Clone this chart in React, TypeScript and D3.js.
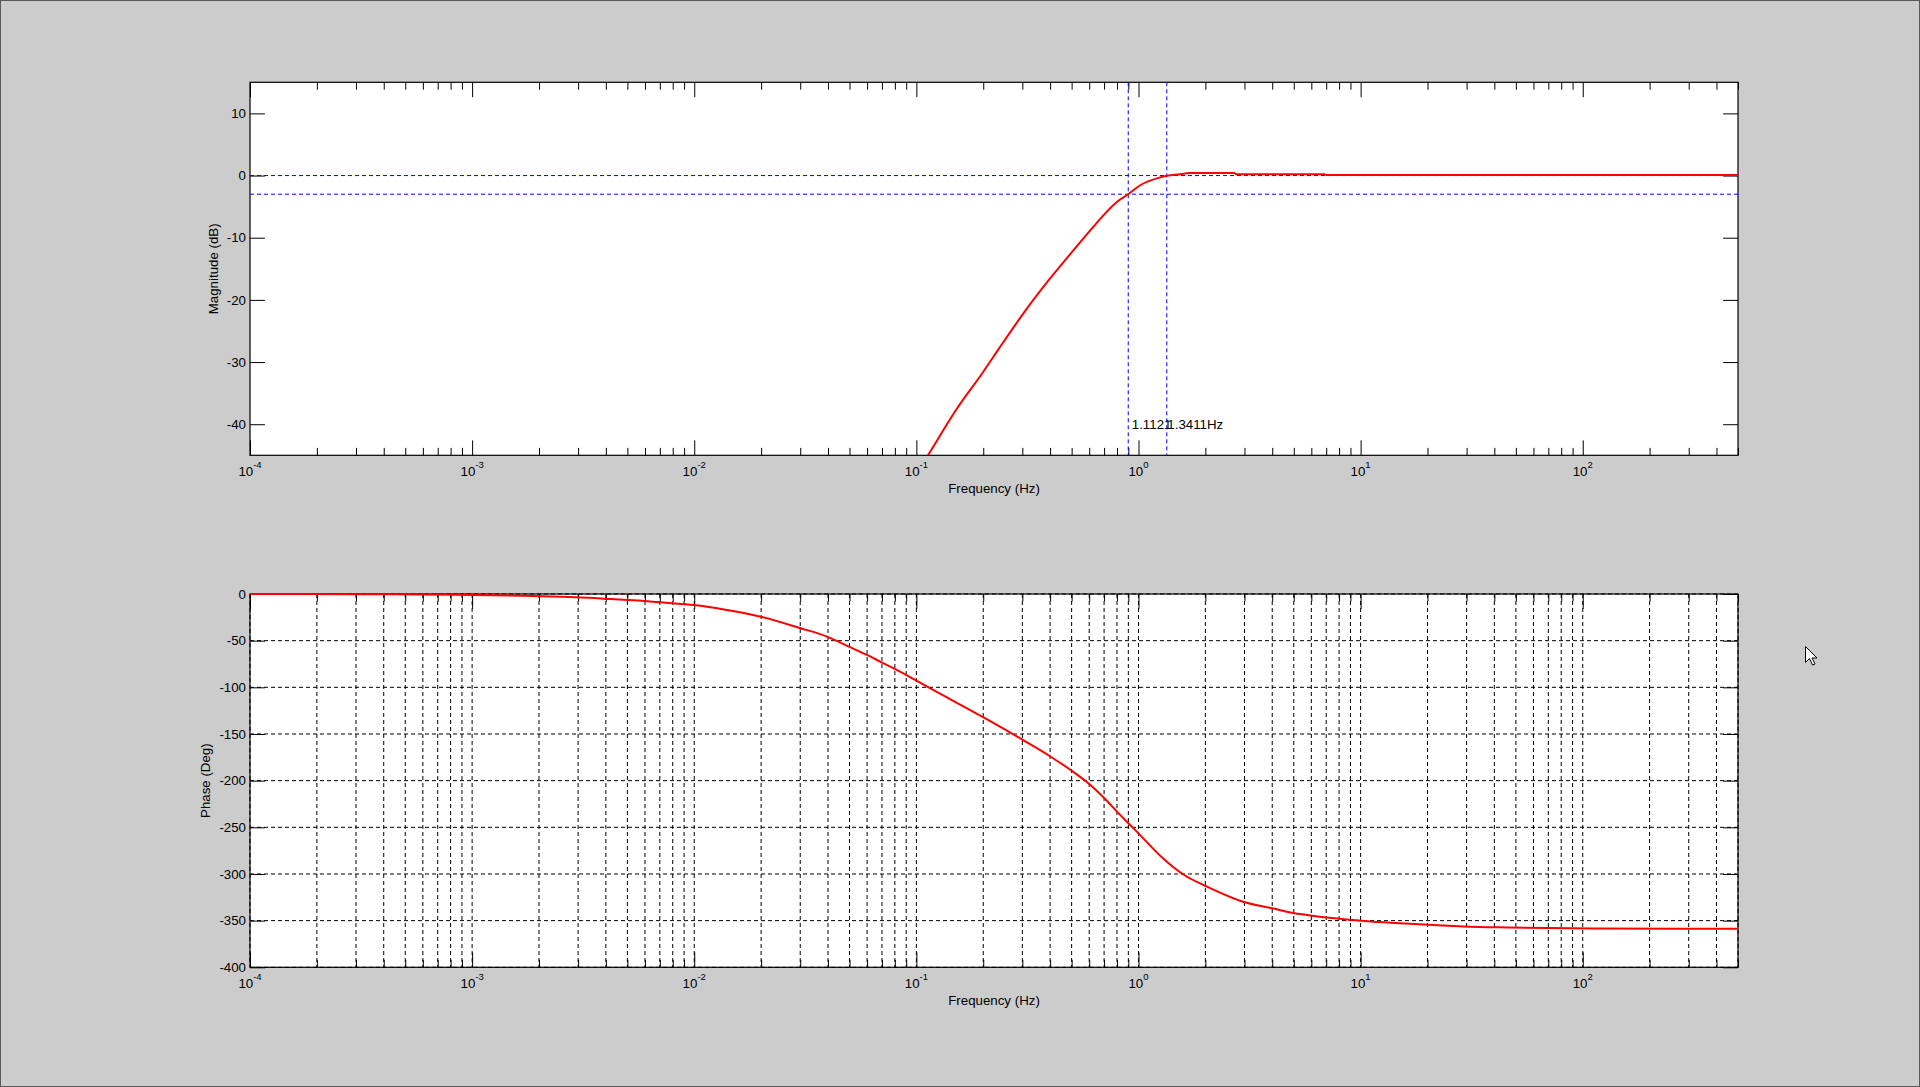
import React, { useEffect, useRef } from 'react';
import * as d3 from 'd3';

// Bode plot of a compensating filter: magnitude (dB) and phase (deg) vs frequency

const magFreq = [0.1, 0.1128, 0.1516, 0.1998, 0.2377, 0.3028, 0.399, 0.5089, 0.616, 0.695, 0.799, 0.8992, 1.018, 1.25, 1.3411, 1.537, 1.7, 2.7, 2.75, 6.88, 7.0, 500];
const magDb = [-48, -45, -37.6, -31.6, -27.6, -22.2, -16.6, -12.05, -8.55, -6.4, -4.26, -3.0, -1.56, -0.3, -0.02, 0.2, 0.42, 0.42, 0.2, 0.2, 0.1, 0.1];

const phaseFreq = [1e-4, 3e-4, 8.36e-4, 1.69e-3, 2.54e-3, 3.36e-3, 4.2e-3, 5.06e-3, 5.98e-3, 6.8e-3, 7.9e-3, 9.14e-3, 0.0104, 0.014, 0.0199, 0.02985, 0.0396, 0.0497, 0.0599, 0.0697, 0.08, 0.1, 0.119, 0.1997, 0.301, 0.4008, 0.4985, 0.6035, 0.713, 0.8036, 0.905, 1.0, 1.295, 1.612, 2.022, 2.985, 4.055, 4.82, 5.93, 8.09, 10, 13.6, 21.3, 29.2, 45.8, 112.6, 500];
const phaseDeg = [0, -0.2, -0.7, -1.8, -2.9, -3.9, -5.4, -6.4, -7.5, -8.6, -10, -11.1, -12.3, -17.1, -24.3, -36.4, -45.7, -56.4, -65.3, -73.2, -80.3, -92.8, -102.8, -132.0, -156.3, -174.1, -189.1, -204.1, -220.5, -233.7, -246.1, -256.5, -283.6, -301.4, -313.2, -330.0, -337.1, -341.2, -344.4, -348.0, -350.1, -352.2, -354.7, -356.2, -357.3, -358.3, -358.7];

// cutoff markers (vertical) and reference levels (horizontal) on the magnitude plot
const markerFreq = [0.8992, 1.3411];
const markerLabels = ['1.1121', '1.3411Hz'];
const refLevelsDb = [0, -3];

const xDomain: [number, number] = [1e-4, 500];
const xMajorTicks = [1e-4, 1e-3, 1e-2, 1e-1, 1, 10, 100];
const xExponents = ['-4', '-3', '-2', '-1', '0', '1', '2'];

const magDomain: [number, number] = [-45, 15];
const magTicks = [10, 0, -10, -20, -30, -40];
const phaseDomain: [number, number] = [-400, 0];
const phaseTicks = [0, -50, -100, -150, -200, -250, -300, -350, -400];

const FIG_W = 1920;
const FIG_H = 1087;
const FONT = '"Liberation Sans", Arial, Helvetica, sans-serif';
const DASH = '4,3';

export default function App() {
  const svgRef = useRef<SVGSVGElement>(null);

  useEffect(() => {
    if (!svgRef.current) return;
    const svg = d3.select(svgRef.current);
    svg.selectAll('*').remove();

    const left = 250;
    const right = 1738;
    const majorLen = 14.9;
    const minorLen = 7.4;

    const x = d3.scaleLog().domain(xDomain).range([left, right]);

    const minorTicks: number[] = [];
    for (let e = -4; e <= 2; e++) {
      for (let k = 2; k <= 9; k++) {
        const v = k * Math.pow(10, e);
        if (v <= xDomain[1] * 1.0001) minorTicks.push(v);
      }
    }

    // figure background + window frame
    svg.append('rect')
      .attr('x', 0.5).attr('y', 0.5)
      .attr('width', FIG_W - 1).attr('height', FIG_H - 1)
      .attr('fill', '#cccccc')
      .attr('stroke', '#5a5a5a');

    const panel = (
      top: number,
      bottom: number,
      domain: [number, number],
      ticks: number[],
      yLabel: string,
      yLabelX: number,
      grid: boolean,
      id: string,
    ) => {
      const y = d3.scaleLinear().domain(domain).range([bottom, top]);
      const g = svg.append('g');

      g.append('rect')
        .attr('x', left).attr('y', top)
        .attr('width', right - left).attr('height', bottom - top)
        .attr('fill', '#ffffff');

      if (grid) {
        g.append('g')
          .selectAll('line')
          .data([...xMajorTicks, ...minorTicks])
          .join('line')
          .attr('x1', d => x(d)).attr('x2', d => x(d))
          .attr('y1', top).attr('y2', bottom)
          .attr('stroke', '#000')
          .attr('stroke-width', 1)
          .attr('stroke-dasharray', DASH);
        g.append('g')
          .selectAll('line')
          .data(ticks)
          .join('line')
          .attr('x1', left).attr('x2', right)
          .attr('y1', d => y(d)).attr('y2', d => y(d))
          .attr('stroke', '#000')
          .attr('stroke-width', 1)
          .attr('stroke-dasharray', DASH);
      }

      // ticks inside the box on all four sides
      const tickAxis = (axis: d3.Axis<any>, tx: number, ty: number) => {
        const a = g.append('g')
          .attr('transform', `translate(${tx},${ty})`)
          .call(axis);
        a.select('.domain').remove();
        a.selectAll('text').remove();
        a.selectAll('line').attr('stroke', '#000').attr('stroke-width', 1);
      };
      tickAxis(d3.axisBottom(x).tickValues(xMajorTicks).tickSize(-majorLen).tickSizeOuter(0).tickFormat(() => ''), 0, bottom);
      tickAxis(d3.axisBottom(x).tickValues(minorTicks).tickSize(-minorLen).tickSizeOuter(0).tickFormat(() => ''), 0, bottom);
      tickAxis(d3.axisTop(x).tickValues(xMajorTicks).tickSize(-majorLen).tickSizeOuter(0).tickFormat(() => ''), 0, top);
      tickAxis(d3.axisTop(x).tickValues(minorTicks).tickSize(-minorLen).tickSizeOuter(0).tickFormat(() => ''), 0, top);
      tickAxis(d3.axisLeft(y).tickValues(ticks).tickSize(-majorLen).tickSizeOuter(0).tickFormat(() => ''), left, 0);
      tickAxis(d3.axisRight(y).tickValues(ticks).tickSize(-majorLen).tickSizeOuter(0).tickFormat(() => ''), right, 0);

      g.append('rect')
        .attr('x', left).attr('y', top)
        .attr('width', right - left).attr('height', bottom - top)
        .attr('fill', 'none')
        .attr('stroke', '#000')
        .attr('stroke-width', 1.2);

      // x tick labels 10^n
      const xl = g.append('g')
        .selectAll('text')
        .data(xMajorTicks)
        .join('text')
        .attr('x', d => x(d))
        .attr('y', bottom + 20.5)
        .attr('text-anchor', 'middle')
        .attr('font-family', FONT)
        .attr('fill', '#000');
      xl.append('tspan').attr('font-size', 13.3).text('10');
      xl.append('tspan').attr('font-size', 9.5).attr('dy', -8).text((d, i) => xExponents[i]);

      g.append('g')
        .selectAll('text')
        .data(ticks)
        .join('text')
        .attr('x', left - 4)
        .attr('y', d => y(d))
        .attr('dy', '0.35em')
        .attr('text-anchor', 'end')
        .attr('font-family', FONT)
        .attr('font-size', 13.3)
        .attr('fill', '#000')
        .text(d => String(d));

      g.append('text')
        .attr('x', (left + right) / 2)
        .attr('y', bottom + 37.5)
        .attr('text-anchor', 'middle')
        .attr('font-family', FONT)
        .attr('font-size', 13.3)
        .attr('fill', '#000')
        .text('Frequency (Hz)');

      g.append('text')
        .attr('transform', `translate(${yLabelX},${(top + bottom) / 2}) rotate(-90)`)
        .attr('text-anchor', 'middle')
        .attr('font-family', FONT)
        .attr('font-size', 13.3)
        .attr('fill', '#000')
        .text(yLabel);

      svg.append('clipPath')
        .attr('id', id)
        .append('rect')
        .attr('x', left).attr('y', top - 3)
        .attr('width', right - left + 2).attr('height', bottom - top + 3);

      return { g, y };
    };

    // Magnitude panel
    const mag = panel(82.3, 455.3, magDomain, magTicks, 'Magnitude (dB)', 218, false, 'clip-mag');

    mag.g.append('g')
      .selectAll('line')
      .data(refLevelsDb)
      .join('line')
      .attr('x1', left).attr('x2', right)
      .attr('y1', d => mag.y(d)).attr('y2', d => mag.y(d))
      .attr('stroke', '#0000ff')
      .attr('stroke-width', 1)
      .attr('stroke-dasharray', DASH);

    mag.g.append('g')
      .selectAll('line')
      .data(markerFreq)
      .join('line')
      .attr('x1', d => x(d)).attr('x2', d => x(d))
      .attr('y1', 82.3).attr('y2', 455.3)
      .attr('stroke', '#0000ff')
      .attr('stroke-width', 1)
      .attr('stroke-dasharray', DASH);

    // the two cursor readouts overlap in the original screenshot
    mag.g.append('g')
      .selectAll('text')
      .data(markerFreq)
      .join('text')
      .attr('x', (d, i) => x(d) + (i === 0 ? 3.5 : 0.5))
      .attr('y', mag.y(-40))
      .attr('dy', '0.35em')
      .attr('font-family', FONT)
      .attr('font-size', 13.3)
      .attr('fill', '#000')
      .text((d, i) => markerLabels[i]);

    const magLine = d3.line<number>()
      .x((d, i) => x(magFreq[i]))
      .y(d => mag.y(d))
      .curve(d3.curveMonotoneX);

    mag.g.append('path')
      .datum(magDb)
      .attr('clip-path', 'url(#clip-mag)')
      .attr('fill', 'none')
      .attr('stroke', '#ff0000')
      .attr('stroke-width', 2)
      .attr('d', magLine);

    // Phase panel
    const ph = panel(594, 967.3, phaseDomain, phaseTicks, 'Phase (Deg)', 210, true, 'clip-ph');

    const phLine = d3.line<number>()
      .x((d, i) => x(phaseFreq[i]))
      .y(d => ph.y(d))
      .curve(d3.curveMonotoneX);

    ph.g.append('path')
      .datum(phaseDeg)
      .attr('clip-path', 'url(#clip-ph)')
      .attr('fill', 'none')
      .attr('stroke', '#ff0000')
      .attr('stroke-width', 2)
      .attr('d', phLine);

    // mouse pointer left in the screenshot
    svg.append('path')
      .attr('transform', 'translate(1805.5,646.5)')
      .attr('d', 'M0,0 L0,16 L4,12 L7,18.5 L9.5,17.5 L6.5,11.5 L11.5,11.5 Z')
      .attr('fill', '#fff')
      .attr('stroke', '#000')
      .attr('stroke-width', 1);
  }, []);

  return (
    <svg
      ref={svgRef}
      width={FIG_W}
      height={FIG_H}
      style={{ position: 'absolute', left: 0, top: 0, display: 'block' }}
    />
  );
}
